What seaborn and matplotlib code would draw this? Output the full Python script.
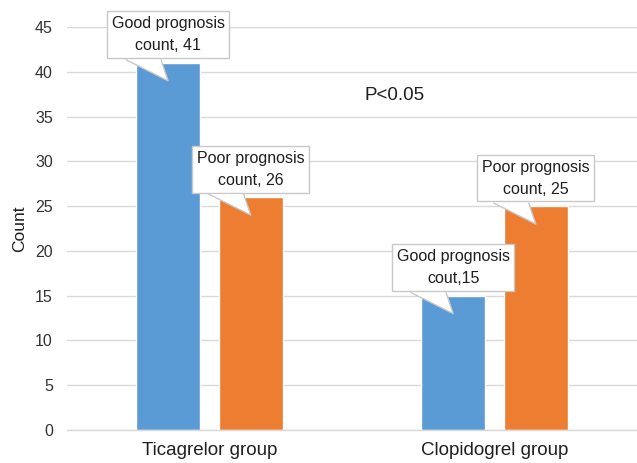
import seaborn as sns
import matplotlib.pyplot as plt
from matplotlib.patches import Polygon
from matplotlib.lines import Line2D
from matplotlib.transforms import IdentityTransform
import pandas as pd

groups = ["Ticagrelor group", "Clopidogrel group"]
outcomes = ["Good prognosis", "Poor prognosis"]
good_counts = [41, 15]
poor_counts = [26, 25]
callout_labels = [
    ["Good prognosis\ncount, 41", "Good prognosis\ncout,15"],
    ["Poor prognosis\ncount, 26", "Poor prognosis\ncount, 25"],
]
colors = ["#5B9BD5", "#ED7D31"]

df = pd.DataFrame({
    "group": groups * 2,
    "outcome": [outcomes[0]] * 2 + [outcomes[1]] * 2,
    "count": good_counts + poor_counts,
})

sns.set_theme(style="whitegrid")
plt.rcParams["font.family"] = ["Liberation Sans", "DejaVu Sans"]
plt.rcParams["text.color"] = "#1f1f1f"

fig = plt.figure(figsize=(6.37, 4.63), dpi=100)
ax = fig.add_axes([0.105, 0.0713, 0.895, 0.8704])

sns.barplot(data=df, x="group", y="count", hue="outcome", palette=colors,
            width=0.58, gap=0.22, saturation=1, legend=False, ax=ax)

ax.set_ylim(0, 45)
ax.set_yticks(range(0, 50, 5))
ax.set_xlim(-0.5, 1.5)
ax.set_xlabel("")
ax.set_ylabel("Count", fontsize=12.5, color="#1f1f1f", labelpad=6)
ax.tick_params(axis="y", labelsize=11.5, labelcolor="#333333", pad=10, length=0)
ax.tick_params(axis="x", labelsize=13.5, labelcolor="#1f1f1f", pad=9, length=0)
ax.grid(axis="y", color="#D9D9D9", linewidth=1)
ax.grid(axis="x", visible=False)
for side in ["left", "right", "top"]:
    ax.spines[side].set_visible(False)
ax.spines["bottom"].set_color("#D9D9D9")
ax.spines["bottom"].set_linewidth(1)

edge = "#C8C8C8"
# speech-bubble callouts on each bar
for i, container in enumerate(ax.containers):
    for j, bar in enumerate(container):
        x = bar.get_x() + bar.get_width() / 2
        h = bar.get_height()
        ax.annotate(callout_labels[i][j], xy=(x, h), xycoords="data",
                    xytext=(0, 28), textcoords="offset pixels",
                    ha="center", va="center", fontsize=11.5, linespacing=1.6,
                    color="#1f1f1f", zorder=5,
                    bbox=dict(boxstyle="square,pad=0.3", fc="white",
                              ec=edge, lw=1))
        # pointer triangle: tip inside the bar, base on the box bottom
        tx, ty = ax.transData.transform((x, h))
        ty -= 18
        pts = [(tx - 42, ty + 21), (tx, ty), (tx - 7, ty + 21)]
        ax.add_patch(Polygon(pts, closed=True, fc="white", ec="none",
                             transform=IdentityTransform(), zorder=6))
        ax.add_line(Line2D([p[0] for p in pts], [p[1] for p in pts],
                           color=edge, lw=1, transform=IdentityTransform(),
                           zorder=7))

ax.text(0.575, 0.83, "P<0.05", transform=ax.transAxes, fontsize=13.5,
        ha="center", va="center", color="#1f1f1f")

fig.savefig("out.png", dpi=100)
